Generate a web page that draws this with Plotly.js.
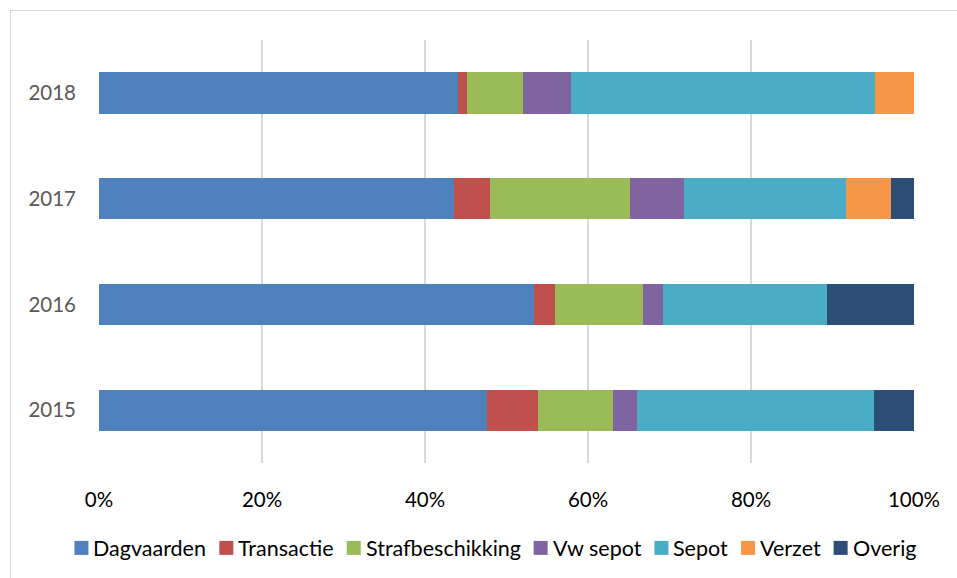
<!DOCTYPE html>
<html><head><meta charset="utf-8">
<script src="https://cdn.plot.ly/plotly-3.0.1.min.js"></script>
<style>
html,body{margin:0;padding:0;background:#fff;}
#frame{position:absolute;left:10px;top:10px;width:960px;height:580px;border-left:1.5px solid #d9d9d9;border-top:1.5px solid #d9d9d9;}
#chart{position:absolute;left:0;top:0;width:957px;height:578px;}
</style></head>
<body>
<div id="frame"></div>
<div id="chart"></div>
<script>
const years = ['2015','2016','2017','2018'];
const seriesNames = ['Dagvaarden','Transactie','Strafbeschikking','Vw sepot','Sepot','Verzet','Overig'];
const dagvaarden      = [47.55, 53.4, 43.6, 44.1];
const transactie      = [6.35, 2.55, 4.4, 1.0];
const strafbeschikking= [9.2, 10.75, 17.2, 6.9];
const vwSepot         = [2.9, 2.5, 6.6, 5.9];
const sepot           = [29.1, 20.1, 19.9, 37.3];
const verzet          = [0, 0, 5.5, 4.8];
const overig          = [4.9, 10.7, 2.75, 0];
const tickVals = [0,20,40,60,80,100];
const tickText = ['0%','20%','40%','60%','80%','100%'];
const colors = ['#4F81BD','#C0504D','#9BBB59','#8064A2','#4BACC6','#F79646','#2C4D75'];
const values = [dagvaarden, transactie, strafbeschikking, vwSepot, sepot, verzet, overig];
const FONT = "Lato, 'Open Sans', sans-serif";
const FS = 20.5, LFS = 21.5;
const W = 957, H = 578;
const M = {l:98.5, r:43, t:39.5, b:115};

const traces = seriesNames.map((n,i)=>({
  type:'bar', orientation:'h', name:n, y:years, x:values[i],
  marker:{color:colors[i], line:{width:0}},
  hoverinfo:'x+name', showlegend:false
}));

// custom legend (Excel-like compact layout)
const ctx = document.createElement('canvas').getContext('2d');
ctx.font = LFS + 'px Lato';
const SQ = 14, GAP_T = 5, GAP_I = 13;
const widths = seriesNames.map(n => ctx.measureText(n).width);
let total = widths.reduce((a,b)=>a+b,0) + seriesNames.length*(SQ+GAP_T) + (seriesNames.length-1)*GAP_I;
let cx = 495 - total/2;
const legY = 548;
const shapes = [], annotations = [];
const pw = W - M.l - M.r, ph = H - M.t - M.b;
const toPX = x => (x - M.l)/pw, toPY = y => 1 - (y - M.t)/ph;
seriesNames.forEach((n,i)=>{
  shapes.push({type:'rect', xref:'paper', yref:'paper', x0:toPX(cx), x1:toPX(cx+SQ), y0:toPY(legY+SQ/2), y1:toPY(legY-SQ/2),
    fillcolor:colors[i], line:{width:0}});
  annotations.push({xref:'paper', yref:'paper', x:toPX(cx+SQ+GAP_T), y:toPY(legY), xanchor:'left', yanchor:'middle',
    text:n, showarrow:false, font:{family:FONT, size:LFS, color:'#000'}, xshift:-2});
  cx += SQ + GAP_T + widths[i] + GAP_I;
});

const layout = {
  width:W, height:H,
  barmode:'stack', bargap:0.61,
  paper_bgcolor:'rgba(0,0,0,0)', plot_bgcolor:'rgba(0,0,0,0)',
  margin:M,
  font:{family:FONT, size:FS, color:'#000'},
  xaxis:{range:[0,100], tickvals:tickVals, ticktext:tickText, showgrid:true, gridcolor:'#d9d9d9', gridwidth:1.5,
         zeroline:false, showline:false, ticks:'', ticklen:0, tickfont:{size:FS,color:'#000'}, ticklabelstandoff:22, fixedrange:true},
  yaxis:{type:'category', categoryorder:'array', categoryarray:years, showgrid:false, zeroline:false, showline:false,
         ticks:'', tickfont:{size:FS,color:'#595959'}, ticklabelstandoff:22, fixedrange:true},
  showlegend:false,
  shapes:shapes, annotations:annotations
};
Plotly.newPlot('chart', traces, layout, {displayModeBar:false, staticPlot:true});
</script>
</body></html>
